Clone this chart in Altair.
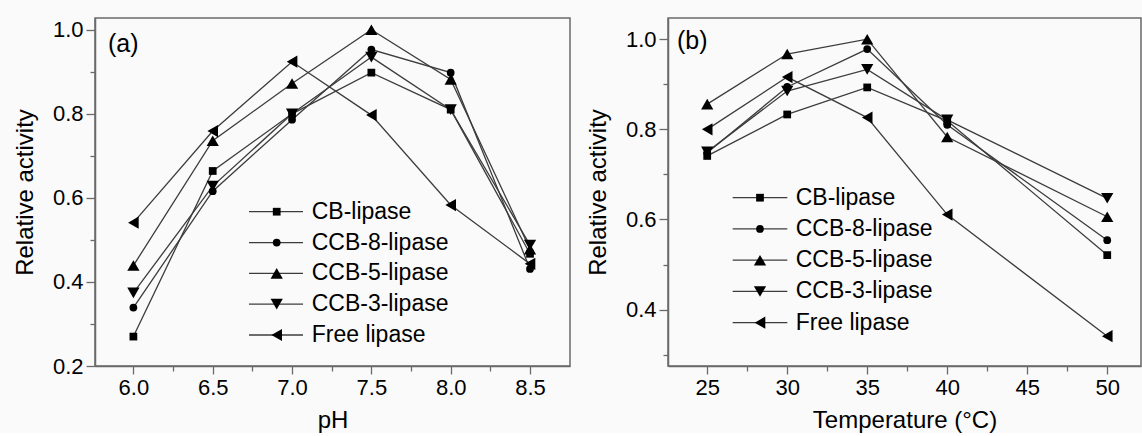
import altair as alt
import pandas as pd

series = ["CB-lipase", "CCB-8-lipase", "CCB-5-lipase", "CCB-3-lipase", "Free lipase"]
shapes = ["square", "circle", "triangle-up", "triangle-down", "triangle-left"]
small_marker_series = ["CB-lipase", "CCB-8-lipase"]
tri_marker_series = ["CCB-5-lipase", "CCB-3-lipase", "Free lipase"]

# Panel (a): pH
ph = [6.0, 6.5, 7.0, 7.5, 8.0, 8.5]
cb_ph = [0.270, 0.664, 0.800, 0.898, 0.810, 0.467]
ccb8_ph = [0.339, 0.616, 0.786, 0.953, 0.898, 0.431]
ccb5_ph = [0.439, 0.736, 0.872, 1.000, 0.882, 0.478]
ccb3_ph = [0.374, 0.628, 0.800, 0.935, 0.810, 0.488]
free_ph = [0.541, 0.759, 0.924, 0.797, 0.583, 0.443]

# Panel (b): temperature
temp = [25, 30, 35, 40, 50]
cb_t = [0.741, 0.833, 0.893, 0.819, 0.521]
ccb8_t = [0.748, 0.894, 0.978, 0.810, 0.554]
ccb5_t = [0.856, 0.967, 1.000, 0.783, 0.606]
ccb3_t = [0.750, 0.885, 0.933, 0.821, 0.647]
free_t = [0.800, 0.916, 0.826, 0.611, 0.341]

ph_ticks = [6.0, 6.25, 6.5, 6.75, 7.0, 7.25, 7.5, 7.75, 8.0, 8.25, 8.5]
temp_ticks = [25, 27.5, 30, 32.5, 35, 37.5, 40, 42.5, 45, 47.5, 50]
ya_ticks = [0.2, 0.3, 0.4, 0.5, 0.6, 0.7, 0.8, 0.9, 1.0]
yb_ticks = [0.3, 0.4, 0.5, 0.6, 0.7, 0.8, 0.9, 1.0]

FONT = "Liberation Sans"
AXC = "#6a6a6a"
SMALL_SIZE = 60
TRI_SIZE = 150


def long_df(xs, cols):
    rows = []
    for name, vals in zip(series, cols):
        for x, v in zip(xs, vals):
            rows.append({"x": x, "y": v, "series": name})
    return pd.DataFrame(rows)


def panel(df, xdom, ydom, xvals, yvals, xmajor, xfmt, xtitle, tag, tag_xy,
          leg_y, leg_x, w, h):
    ymajor = "round(datum.value*10) % 2 == 0"
    xscale = alt.Scale(domain=xdom, nice=False, zero=False)
    yscale = alt.Scale(domain=ydom, nice=False, zero=False)
    shape_scale = alt.Scale(domain=series, range=shapes)
    xaxis = alt.Axis(
        values=xvals, title=xtitle, grid=False, titlePadding=10,
        labelExpr=f"({xmajor}) ? format(datum.value, '{xfmt}') : ''",
        tickSize={"condition": {"test": xmajor, "value": 8}, "value": 5},
    )
    yaxis = alt.Axis(
        values=yvals, title="Relative activity", grid=False, titlePadding=15,
        labelExpr=f"({ymajor}) ? format(datum.value, '.1f') : ''",
        tickSize={"condition": {"test": ymajor, "value": 9}, "value": 5},
    )
    base = alt.Chart(df)
    lines = base.mark_line(color="#3c3c3c", strokeWidth=1.3).encode(
        x=alt.X("x:Q", scale=xscale, axis=xaxis),
        y=alt.Y("y:Q", scale=yscale, axis=yaxis),
        detail="series:N",
    )

    def point_layer(chart, names, size, enc):
        return chart.transform_filter(
            alt.FieldOneOfPredicate(field="series", oneOf=names)
        ).mark_point(filled=True, color="black", opacity=1, size=size).encode(
            shape=alt.Shape("series:N", scale=shape_scale, legend=None), **enc)

    penc = dict(x=alt.X("x:Q", scale=xscale), y=alt.Y("y:Q", scale=yscale))
    pts_s = point_layer(base, small_marker_series, SMALL_SIZE, penc)
    pts_t = point_layer(base, tri_marker_series, TRI_SIZE, penc)

    tag_df = pd.DataFrame({"t": [tag]})
    tagm = alt.Chart(tag_df).mark_text(
        align="left", baseline="middle", font=FONT, fontSize=25, color="black"
    ).encode(x=alt.value(tag_xy[0]), y=alt.value(tag_xy[1]), text="t:N")
    main = alt.layer(lines, pts_s, pts_t, tagm)

    leg_df = pd.DataFrame({"series": series})
    ly = alt.Y("series:N", scale=alt.Scale(type="point", domain=series,
                                           range=list(leg_y), padding=0),
               axis=None)
    lb = alt.Chart(leg_df)
    lrule = lb.mark_rule(color="#3c3c3c", strokeWidth=1.3).encode(
        y=ly, x=alt.value(leg_x[0]), x2=alt.value(leg_x[1]))
    lenc = dict(y=ly, x=alt.value(leg_x[2]))
    lpts_s = point_layer(lb, small_marker_series, SMALL_SIZE, lenc)
    lpts_t = point_layer(lb, tri_marker_series, TRI_SIZE, lenc)
    ltxt = lb.mark_text(align="left", baseline="middle", font=FONT,
                        fontSize=23, color="black").encode(
        y=ly, x=alt.value(leg_x[3]), text="series:N")
    legend = alt.layer(lrule, lpts_s, lpts_t, ltxt)
    return alt.layer(main, legend).resolve_scale(y="independent").properties(
        width=w, height=h)


df_a = long_df(ph, [cb_ph, ccb8_ph, ccb5_ph, ccb3_ph, free_ph])
df_b = long_df(temp, [cb_t, ccb8_t, ccb5_t, ccb3_t, free_t])

pa = panel(df_a, [5.758, 8.752], [0.2, 1.028], ph_ticks, ya_ticks,
           "round(datum.value*4) % 2 == 0", ".1f", "pH", "(a)", (13, 26),
           (193.7, 317), (154, 208, 181.7, 216.7), 475, 348)
pb = panel(df_b, [22.55, 52.11], [0.275, 1.047], temp_ticks, yb_ticks,
           "round(datum.value/2.5) % 2 == 0", "d", "Temperature (°C)", "(b)",
           (9, 23), (179.7, 304.7), (64.7, 119.3, 92, 127.7), 473, 348)

chart = alt.hconcat(pa, pb, spacing=98, bounds="flush").properties(
    padding={"left": 12, "top": 17, "right": 0, "bottom": 0},
    background="#fafafa",
).configure_view(
    stroke=AXC, strokeWidth=1.5
).configure_axis(
    domainColor=AXC, domainWidth=1.5, tickColor=AXC, tickWidth=1.3,
    labelFont=FONT, labelFontSize=22, labelColor="black", labelPadding=3,
    titleFont=FONT, titleFontSize=24, titleFontWeight="normal",
    titleColor="black",
)

chart.save("out.html", embed_options={"renderer": "svg", "actions": False})
